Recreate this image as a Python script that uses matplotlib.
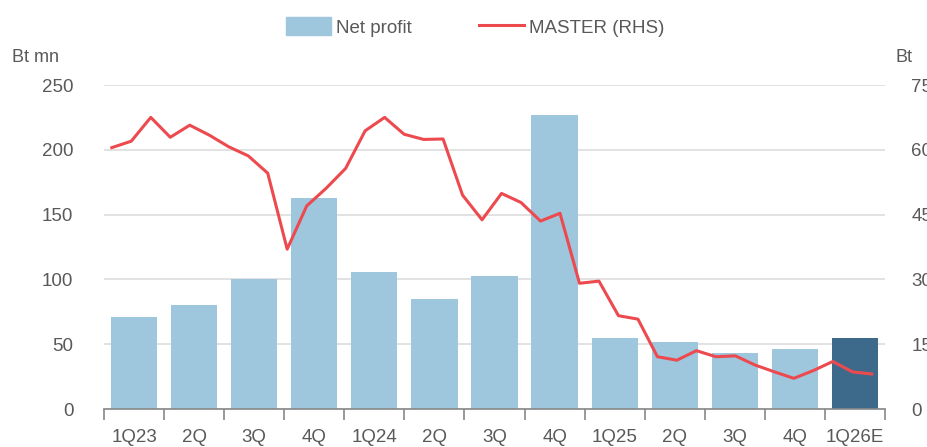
import numpy as np
import matplotlib
matplotlib.use("Agg")
import matplotlib.pyplot as plt
from matplotlib.patches import Patch
from matplotlib.lines import Line2D

# datos
quarters = ["1Q23", "2Q", "3Q", "4Q", "1Q24", "2Q", "3Q", "4Q",
            "1Q25", "2Q", "3Q", "4Q", "1Q26E"]
net_profit = [71, 80, 100, 163, 106, 85, 103, 227, 55, 52, 43, 46, 55]
master_price = [60.5, 62.0, 67.5, 62.9, 65.7, 63.4, 60.7, 58.6, 54.6, 37.0,
                47.0, 51.1, 55.7, 64.4, 67.5, 63.6, 62.4, 62.5, 49.5, 43.8,
                49.9, 47.8, 43.5, 45.3, 29.1, 29.6, 21.6, 20.8, 12.1, 11.3,
                13.5, 12.1, 12.3, 10.2, 8.6, 7.1, 8.9, 11.0, 8.6, 8.1]

plt.rcParams["font.family"] = ["Liberation Sans", "DejaVu Sans"]
txt = "#595959"
fs = 13.5

fig = plt.figure(figsize=(9.28, 4.47), dpi=100)
ax = fig.add_axes([104 / 928, 1 - 409 / 447, 781 / 928, 324 / 447])

x = np.arange(len(quarters))
colores = ["#9ec6dc"] * (len(quarters) - 1) + ["#3d6a8a"]
ax.bar(x, net_profit, width=0.77, color=colores, zorder=2)
ax.set_xlim(-0.5, len(quarters) - 0.5)
ax.set_ylim(0, 250)
ax.set_yticks(range(0, 251, 50))
ax.yaxis.grid(True, color="#dddddd", linewidth=1.2, zorder=0)
ax.set_axisbelow(True)

for s in ["top", "right", "left"]:
    ax.spines[s].set_visible(False)
ax.spines["bottom"].set_color("#888888")
ax.spines["bottom"].set_linewidth(1.2)

# ticks del eje x en los bordes de las categorias
ax.set_xticks(np.arange(-0.5, len(quarters)), minor=False)
ax.set_xticklabels([])
ax.tick_params(axis="x", length=8, color="#888888", width=1.2, direction="out")
for i, q in enumerate(quarters):
    ax.text(i, -22, q, ha="center", va="center", fontsize=fs, color=txt)

ax.tick_params(axis="y", length=0, pad=22, labelsize=fs, labelcolor=txt)

ax2 = ax.twinx()
xm = np.linspace(-0.37, 12.28, len(master_price))
ax2.plot(xm, master_price, color="#ec4a4f", linewidth=2.2, zorder=3)
ax2.set_ylim(0, 75)
ax2.set_yticks(range(0, 76, 15))
for s in ax2.spines.values():
    s.set_visible(False)
ax2.tick_params(axis="y", length=0, pad=19, labelsize=fs, labelcolor=txt)

fig.text(12 / 928, 1 - 57 / 447, "Bt mn", fontsize=13, color=txt, va="center")
fig.text(896 / 928, 1 - 57 / 447, "Bt", fontsize=13, color=txt, va="center")

handles = [Patch(color="#9ec6dc", label="Net profit"),
           Line2D([0], [0], color="#ec4a4f", linewidth=2.2, label="MASTER (RHS)")]
fig.legend(handles=handles, loc="center", bbox_to_anchor=(475 / 928, 1 - 27 / 447),
           ncol=2, frameon=False, fontsize=fs, labelcolor=txt,
           handlelength=2.4, handleheight=1.1, handletextpad=0.27, columnspacing=3.6)

fig.savefig("out.png", dpi=100)
